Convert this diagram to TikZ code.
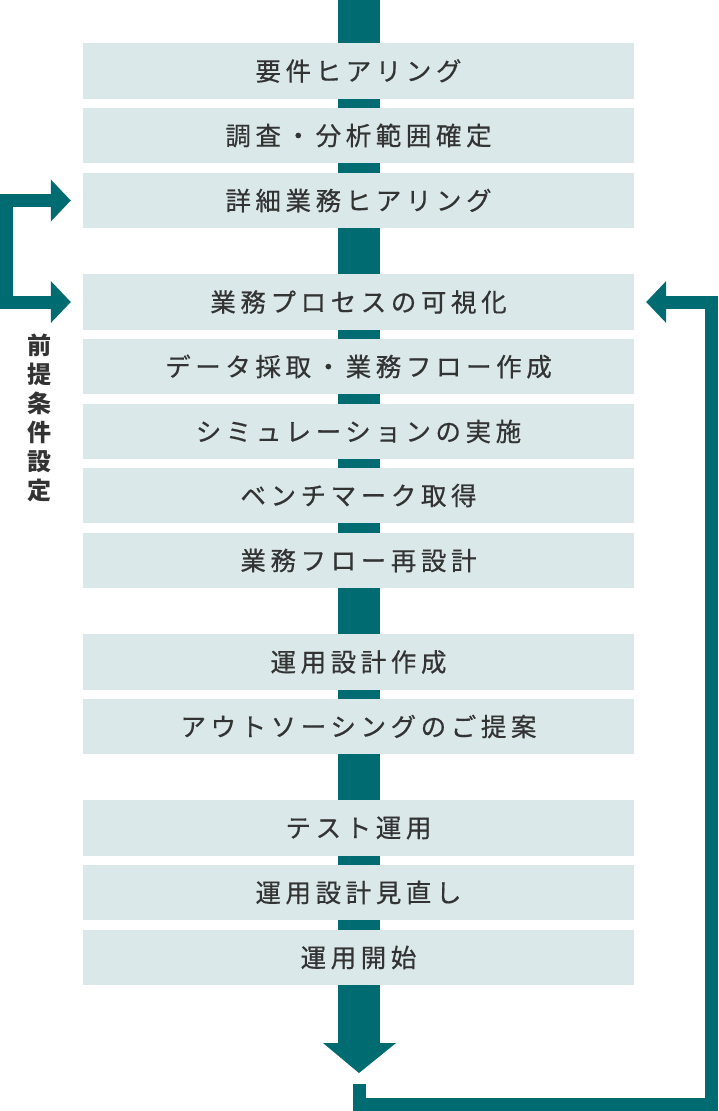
\documentclass[tikz,border=0pt]{standalone}
\usepackage{fontspec}
\newfontfamily\jp[LetterSpace=18,FakeBold=0.5]{Noto Sans CJK JP}
\newfontfamily\jpb{Noto Sans CJK JP}
\usetikzlibrary{arrows.meta}
\definecolor{flowteal}{RGB}{0,107,113}
\definecolor{stepfill}{RGB}{218,232,233}
\definecolor{steptext}{RGB}{51,51,51}

\begin{document}
\begin{tikzpicture}[x=1pt,y=-1pt,
    stepbox/.style={fill=stepfill, minimum width=551pt, minimum height=55.5pt,
      inner sep=0pt, text=steptext, font=\jp\fontsize{25.5}{28}\selectfont},
    loopline/.style={draw=flowteal, line width=13pt, line join=miter},
    loophead/.tip={Triangle[width=42pt,length=20pt,line width=0pt,fill=flowteal]}]
  \useasboundingbox (0,0) rectangle (718,1111);

  % main flow
  \coordinate (top) at (359,0);
  \coordinate (bottom) at (359,1043);
  \coordinate (ret) at (359,1084);
  \draw[flowteal, line width=42pt] (top) -- (bottom);
  \fill[flowteal] (323,1043) -- (396,1043) -- (359,1073) -- cycle;

  \node[stepbox] (s1) at (358.5,71) {要件ヒアリング};
  \node[stepbox] (s2) at (358.5,135.5) {調査・分析範囲確定};
  \node[stepbox] (s3) at (358.5,200.5) {詳細業務ヒアリング};

  \node[stepbox] (s4) at (358.5,302) {業務プロセスの可視化};
  \node[stepbox] (s5) at (358.5,366.5) {データ採取・業務フロー作成};
  \node[stepbox] (s6) at (358.5,431.5) {シミュレーションの実施};
  \node[stepbox] (s7) at (358.5,495.5) {ベンチマーク取得};
  \node[stepbox] (s8) at (358.5,560.5) {業務フロー再設計};

  \node[stepbox] (s9) at (358.5,662) {運用設計作成};
  \node[stepbox] (s10) at (358.5,726.5) {アウトソーシングのご提案};

  \node[stepbox] (s11) at (358.5,828) {テスト運用};
  \node[stepbox] (s12) at (358.5,892.5) {運用設計見直し};
  \node[stepbox] (s13) at (358.5,957.5) {運用開始};

  % loops
  \draw[loopline, loophead-loophead] ([xshift=-12pt]s3.west) -- (6.5,200.5) -- (6.5,302) -- ([xshift=-12pt]s4.west);
  \draw[loopline, -loophead] (ret) |- (711,1104) |- ([xshift=12pt]s4.east);

  \node[text=steptext, font=\jpb\bfseries\fontsize{24}{29}\selectfont, align=center, inner sep=0pt]
    (pre) at (39.5,417.5) {前\\提\\条\\件\\設\\定};
\end{tikzpicture}
\end{document}
